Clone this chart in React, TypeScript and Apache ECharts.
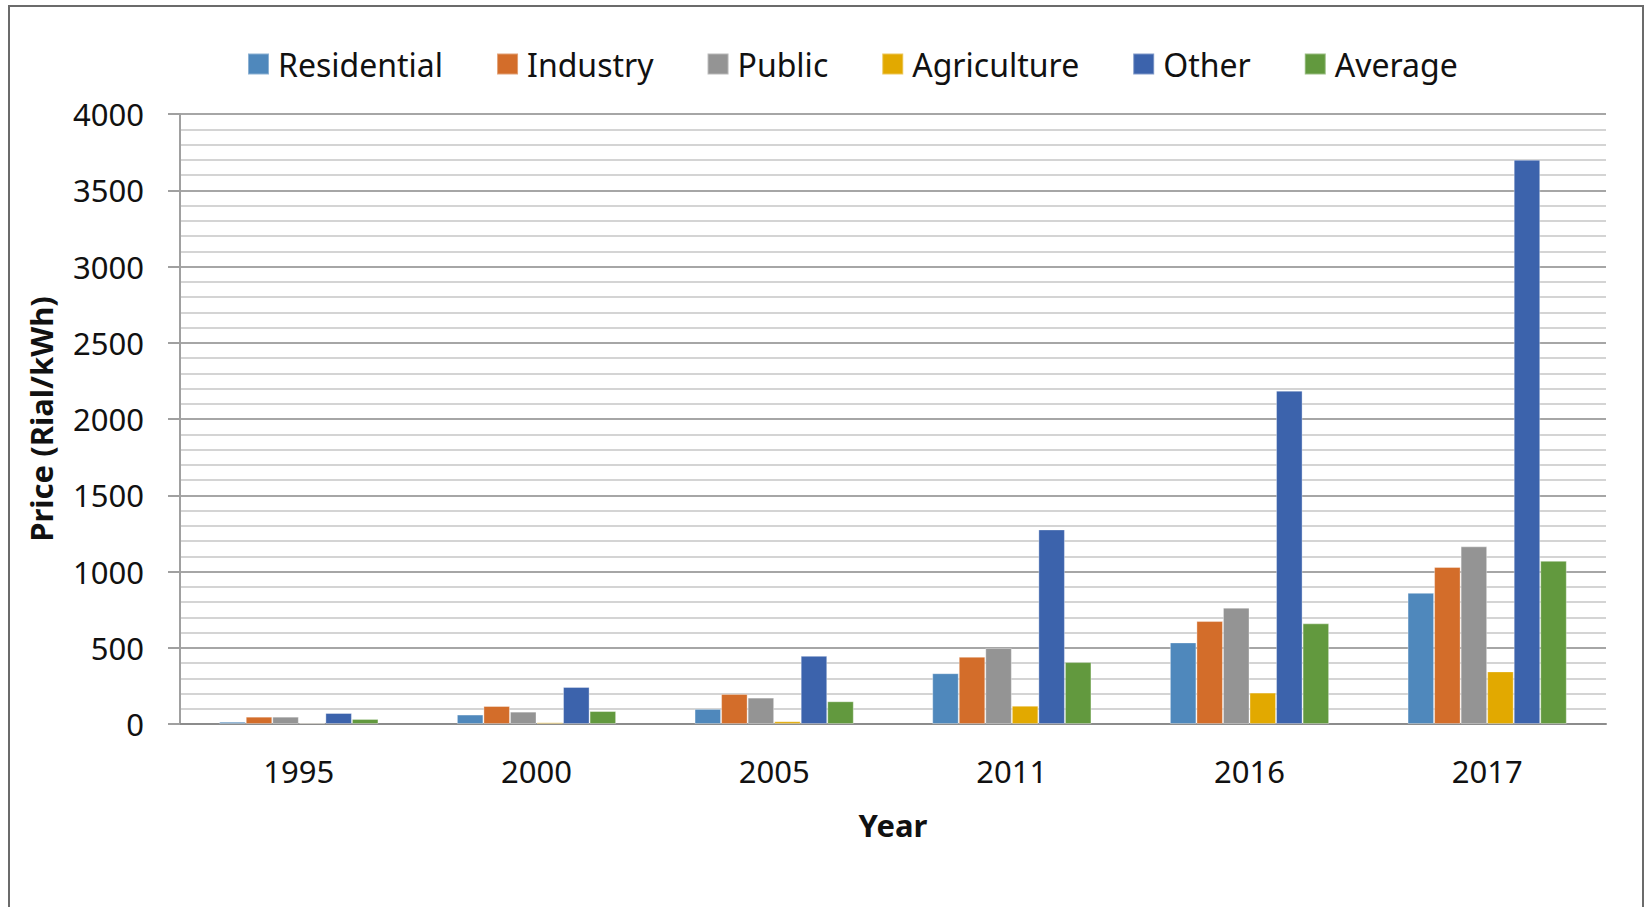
import React, { useEffect, useRef } from "react";
import * as echarts from "echarts";

const years = ["1995", "2000", "2005", "2011", "2016", "2017"];
const residential = [15, 62, 99, 333, 535, 860];
const industry = [48, 118, 197, 441, 675, 1030];
const publicSector = [48, 81, 173, 498, 763, 1165];
const agriculture = [7, 11, 18, 120, 206, 345];
const other = [72, 243, 447, 1276, 2186, 3700];
const average = [33, 85, 149, 406, 660, 1070];

const seriesNames = ["Residential", "Industry", "Public", "Agriculture", "Other", "Average"];
const seriesColors = ["#4F88BC", "#D36D2A", "#949494", "#E2A900", "#3C63AC", "#62993E"];
const seriesData = [residential, industry, publicSector, agriculture, other, average];

const FONT = "'Noto Sans', 'Open Sans', sans-serif";

export default function App() {
  const ref = useRef<HTMLDivElement>(null);
  useEffect(() => {
    if (!ref.current) return;
    const chart = echarts.init(ref.current, undefined, { renderer: "svg" });
    chart.setOption({
      animation: false,
      backgroundColor: "#ffffff",
      textStyle: { fontFamily: FONT },
      graphic: [
        {
          type: "rect",
          shape: { x: 9, y: 6, width: 1634, height: 1000 },
          style: { fill: "none", stroke: "#6b6b6b", lineWidth: 2 },
          silent: true,
        },
      ],
      legend: {
        top: 43,
        left: 242,
        itemWidth: 21,
        itemHeight: 21,
        itemGap: 53,
        icon: "rect",
        textStyle: { fontSize: 32, color: "#111", fontFamily: FONT, padding: [0, 0, 0, 4] },
        data: seriesNames,
      },
      grid: { left: 180, right: 42, top: 114, bottom: 183 },
      xAxis: {
        type: "category",
        data: years,
        name: "Year",
        nameLocation: "middle",
        nameGap: 85,
        nameTextStyle: { fontSize: 31, fontWeight: "bold", color: "#111", fontFamily: FONT },
        axisLine: { show: true, lineStyle: { color: "#8c8c8c", width: 2 } },
        axisTick: { show: false },
        axisLabel: { fontSize: 31, color: "#111", margin: 31, fontFamily: FONT },
      },
      yAxis: {
        type: "value",
        min: 0,
        max: 4000,
        interval: 500,
        name: "Price (Rial/kWh)",
        nameLocation: "middle",
        nameGap: 124,
        nameRotate: 90,
        nameTextStyle: { fontSize: 31, fontWeight: "bold", color: "#111", fontFamily: FONT },
        axisLine: { show: true, lineStyle: { color: "#a0a0a0", width: 2 } },
        axisTick: { show: true, length: 12, lineStyle: { color: "#a0a0a0", width: 2 } },
        axisLabel: {
          fontSize: 31,
          color: "#111",
          margin: 36,
          fontFamily: FONT,
          formatter: (v: number) => String(v),
        },
        splitLine: { show: true, lineStyle: { color: "#a6a6a6", width: 2 } },
        minorTick: { show: false, splitNumber: 5 },
        minorSplitLine: { show: true, lineStyle: { color: "#d4d4d4", width: 2 } },
      },
      series: seriesNames.map((name, i) => ({
        name,
        type: "bar",
        data: seriesData[i],
        barGap: "0%",
        barCategoryGap: "33%",
        itemStyle: { color: seriesColors[i], borderColor: "rgba(255,255,255,0.35)", borderWidth: 1 },
      })),
    });
    return () => chart.dispose();
  }, []);
  return (
    <div
      ref={ref}
      style={{ position: "fixed", left: 0, top: 0, width: 1648, height: 907 }}
    />
  );
}
